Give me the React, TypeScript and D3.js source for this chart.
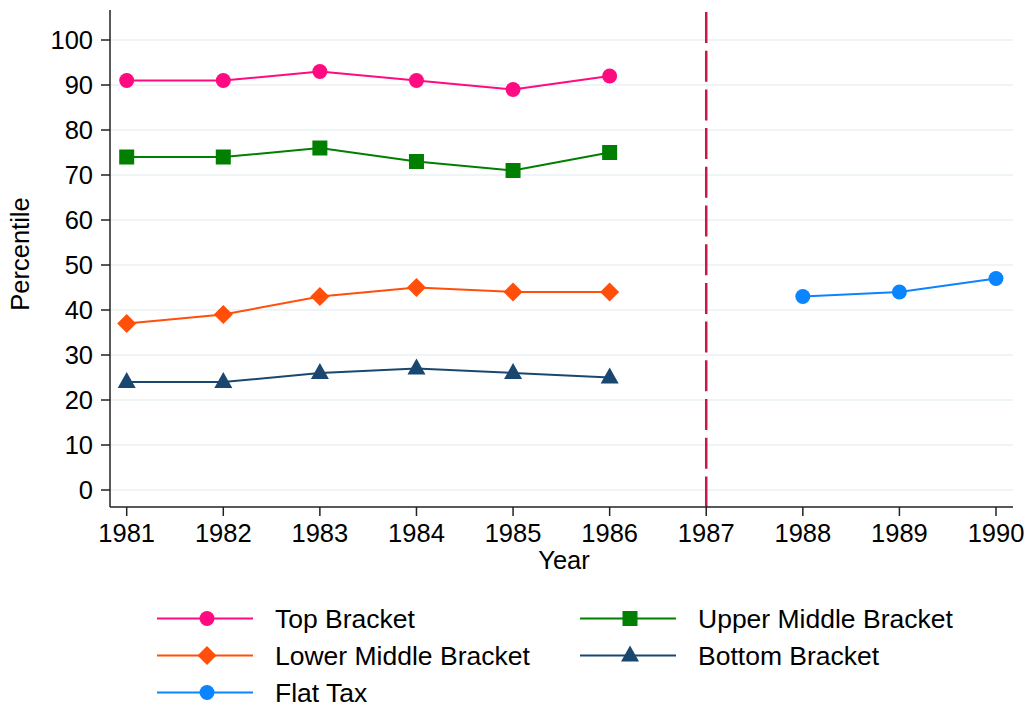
import React from "react";
import * as d3 from "d3";

const years = [1981, 1982, 1983, 1984, 1985, 1986, 1987, 1988, 1989, 1990];
const preYears = [1981, 1982, 1983, 1984, 1985, 1986];
const postYears = [1988, 1989, 1990];
const topBracket = [91, 91, 93, 91, 89, 92];
const upperMiddle = [74, 74, 76, 73, 71, 75];
const lowerMiddle = [37, 39, 43, 45, 44, 44];
const bottomBracket = [24, 24, 26, 27, 26, 25];
const flatTax = [43, 44, 47];
const yTicks = [0, 10, 20, 30, 40, 50, 60, 70, 80, 90, 100];
const reformYear = 1987;

type Shape = "circle" | "square" | "diamond" | "triangle";
const series: { name: string; xs: number[]; ys: number[]; color: string; shape: Shape }[] = [
  { name: "Top Bracket", xs: preYears, ys: topBracket, color: "#ff0a80", shape: "circle" },
  { name: "Upper Middle Bracket", xs: preYears, ys: upperMiddle, color: "#007f00", shape: "square" },
  { name: "Lower Middle Bracket", xs: preYears, ys: lowerMiddle, color: "#ff4f0a", shape: "diamond" },
  { name: "Bottom Bracket", xs: preYears, ys: bottomBracket, color: "#1a476f", shape: "triangle" },
  { name: "Flat Tax", xs: postYears, ys: flatTax, color: "#0a84ff", shape: "circle" },
];

const FONT = "'Liberation Sans', Arial, Helvetica, sans-serif";
const FS = 25.5;
const LFS = 26.5;

function Marker({ shape, x, y, color }: { shape: Shape; x: number; y: number; color: string }) {
  if (shape === "circle") return <circle cx={x} cy={y} r={7.5} fill={color} />;
  if (shape === "square") return <rect x={x - 7.5} y={y - 7.5} width={15} height={15} fill={color} />;
  if (shape === "diamond")
    return <path d={`M${x},${y - 9.5}L${x + 9.5},${y}L${x},${y + 9.5}L${x - 9.5},${y}Z`} fill={color} />;
  return <path d={`M${x},${y - 10}L${x + 9},${y + 6}L${x - 9},${y + 6}Z`} fill={color} />;
}

export default function App() {
  const W = 1026, H = 707;
  const left = 110, right = 1013, top = 10, bottom = 507;
  const x = d3.scaleLinear().domain([1981, 1990]).range([126.7, 996]);
  const y = d3.scaleLinear().domain([0, 100]).range([490, 40]);
  const line = d3.line<[number, number]>().x((d) => x(d[0])).y((d) => y(d[1]));

  const legendItems = [
    { s: series[0], lx: 157, row: 0 },
    { s: series[1], lx: 580, row: 0 },
    { s: series[2], lx: 157, row: 1 },
    { s: series[3], lx: 580, row: 1 },
    { s: series[4], lx: 157, row: 2 },
  ];

  return (
    <svg width={W} height={H} style={{ position: "absolute", left: 0, top: 0, background: "#fff" }} fontFamily={FONT}>
      <rect x={0} y={0} width={W} height={H} fill="#fff" />
      {yTicks.map((t) => (
        <line key={"g" + t} x1={left} x2={right} y1={y(t)} y2={y(t)} stroke="#eaf2f3" strokeWidth={1.5} />
      ))}
      <line x1={x(reformYear)} x2={x(reformYear)} y1={12} y2={bottom} stroke="#c8184a" strokeWidth={2.5} strokeDasharray="31,7.7" />
      {series.map((s) => (
        <g key={s.name}>
          <path d={line(s.xs.map((v, i) => [v, s.ys[i]] as [number, number])) || ""} fill="none" stroke={s.color} strokeWidth={2} />
          {s.xs.map((v, i) => (
            <Marker key={i} shape={s.shape} x={x(v)} y={y(s.ys[i])} color={s.color} />
          ))}
        </g>
      ))}
      <line x1={left} x2={left} y1={top} y2={bottom} stroke="#222" strokeWidth={1.5} />
      <line x1={left} x2={right} y1={bottom} y2={bottom} stroke="#222" strokeWidth={1.5} />
      {yTicks.map((t) => (
        <g key={"y" + t}>
          <line x1={left - 9} x2={left} y1={y(t)} y2={y(t)} stroke="#222" strokeWidth={1.5} />
          <text x={left - 17} y={y(t)} dy="0.36em" textAnchor="end" fontSize={FS} fill="#000">
            {t}
          </text>
        </g>
      ))}
      {years.map((t) => (
        <g key={"x" + t}>
          <line x1={x(t)} x2={x(t)} y1={bottom} y2={bottom + 9} stroke="#222" strokeWidth={1.5} />
          <text x={x(t)} y={bottom + 35} textAnchor="middle" fontSize={FS} fill="#000">
            {t}
          </text>
        </g>
      ))}
      <text x={564} y={569} textAnchor="middle" fontSize={FS} fill="#000">Year</text>
      <text transform={`translate(29,254) rotate(-90)`} textAnchor="middle" fontSize={FS} fill="#000">Percentile</text>
      {legendItems.map(({ s, lx, row }) => {
        const ly = 618.5 + row * 37;
        return (
          <g key={"l" + s.name}>
            <line x1={lx} x2={lx + 96} y1={ly} y2={ly} stroke={s.color} strokeWidth={2} />
            <Marker shape={s.shape} x={lx + 50} y={ly} color={s.color} />
            <text x={lx + 118} y={ly} dy="0.35em" fontSize={LFS} fill="#000">{s.name}</text>
          </g>
        );
      })}
    </svg>
  );
}
